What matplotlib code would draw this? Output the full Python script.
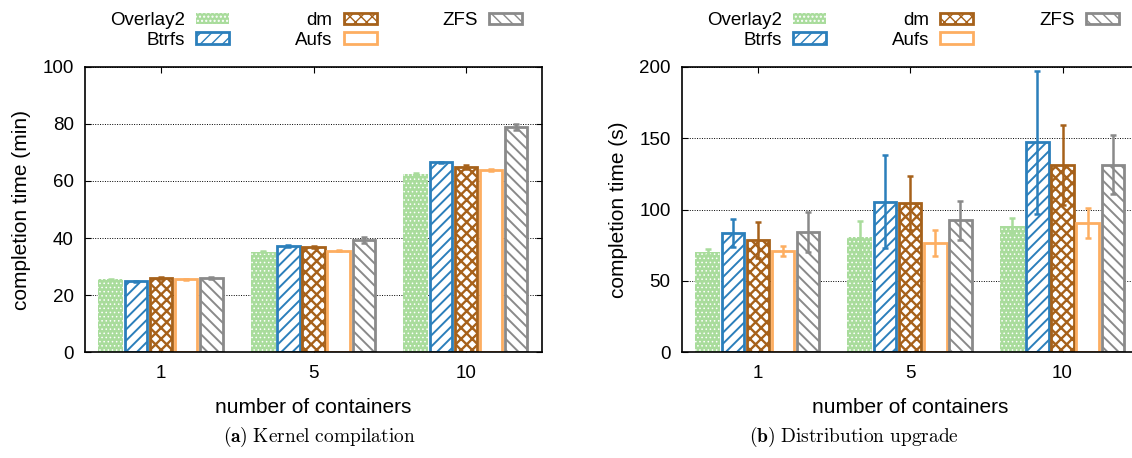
import numpy as np
import matplotlib
matplotlib.use('Agg')
import matplotlib.pyplot as plt

# Data
containers = ['1', '5', '10']
drivers = ['Overlay2', 'Btrfs', 'dm', 'Aufs', 'ZFS']

kernel_mean = {
    'Overlay2': [25.5, 35.2, 62.4],
    'Btrfs':    [24.8, 37.2, 66.5],
    'dm':       [26.0, 36.8, 64.9],
    'Aufs':     [25.6, 35.6, 63.8],
    'ZFS':      [26.1, 39.4, 78.8],
}
kernel_err = {
    'Overlay2': [0.2, 0.2, 0.3],
    'Btrfs':    [0.2, 0.3, 0.3],
    'dm':       [0.3, 0.4, 0.6],
    'Aufs':     [0.2, 0.2, 0.4],
    'ZFS':      [0.3, 1.0, 1.0],
}
upgrade_mean = {
    'Overlay2': [70.0, 80.7, 88.6],
    'Btrfs':    [83.5, 105.6, 147.0],
    'dm':       [78.4, 104.4, 131.0],
    'Aufs':     [70.9, 76.3, 90.5],
    'ZFS':      [84.4, 92.3, 131.4],
}
upgrade_err = {
    'Overlay2': [2.0, 11.0, 5.4],
    'Btrfs':    [10.0, 32.5, 50.0],
    'dm':       [12.5, 19.0, 28.0],
    'Aufs':     [3.7, 9.0, 10.5],
    'ZFS':      [14.0, 13.5, 20.5],
}

# Styles
colors = {
    'Overlay2': '#a9dc9c',
    'Btrfs': '#2b7fbb',
    'dm': '#a6611a',
    'Aufs': '#fdae61',
    'ZFS': '#8a8a8a',
}
hatches = {'Overlay2': '....', 'Btrfs': '///', 'dm': 'xxx', 'Aufs': None, 'ZFS': '\\\\\\'}
hatch_lw = {'Overlay2': 0.6, 'Btrfs': 1.4, 'dm': 1.7, 'Aufs': 1.4, 'ZFS': 1.4}

plt.rcParams['font.family'] = ['Liberation Sans', 'DejaVu Sans']
plt.rcParams['mathtext.fontset'] = 'cm'
FS = 13.5      # ticks and legend
LFS = 15       # axis labels
EDGE_LW = 2.0  # bar outline, points

W, H = 1132, 458
fig = plt.figure(figsize=(W / 100, H / 100), dpi=100)


def px_axes(left, top, right, bottom):
    return fig.add_axes([left / W, 1 - bottom / H, (right - left) / W, (bottom - top) / H])


def draw_panel(ax, means, errs, ymax, ystep, ylabel):
    x = np.arange(len(containers))
    bw = 0.165
    # outlines sit inside each bar's slot (gnuplot style), so shrink by one line width
    ax_w_px = ax.get_position().width * W
    inset = EDGE_LW * 100 / 72 / (ax_w_px / 3.0)
    handles = []
    for i, d in enumerate(drivers):
        pos = x + (i - 2) * bw
        c = colors[d]
        with plt.rc_context({'hatch.linewidth': hatch_lw[d]}):
            if d == 'Overlay2':
                h = ax.bar(pos, means[d], bw, facecolor=c, edgecolor='white', linewidth=0,
                           hatch=hatches[d], label=d, zorder=2)
            else:
                h = ax.bar(pos, means[d], bw - inset, facecolor='white', edgecolor=c,
                           linewidth=EDGE_LW, hatch=hatches[d], label=d, zorder=2)
        handles.append(h)
        ax.errorbar(pos, means[d], yerr=errs[d], fmt='none', ecolor=c,
                    elinewidth=1.8, capsize=2.4, capthick=1.8, zorder=3)
    ax.set_xlim(-0.5, 2.5)
    ax.set_ylim(0, ymax)
    ax.set_yticks(np.arange(0, ymax + 1, ystep))
    ax.set_xticks(x)
    ax.set_xticklabels(containers)
    ax.tick_params(direction='in', top=True, right=True, labelsize=FS, pad=8,
                   length=4, width=0.8)
    ax.tick_params(axis='x', pad=9)
    ax.yaxis.grid(True, linestyle=(0, (1, 1.5)), color='black', linewidth=0.7)
    ax.set_axisbelow(True)
    for s in ax.spines.values():
        s.set_linewidth(1.2)
    ax.set_xlabel('number of containers', fontsize=LFS, labelpad=12)
    ax.set_ylabel(ylabel, fontsize=LFS, labelpad=8)
    ax.legend(handles=handles, loc='upper left', bbox_to_anchor=(0.055, 1.19), ncol=3,
              markerfirst=False, frameon=False, fontsize=FS, borderpad=0,
              borderaxespad=0, handlelength=1.76, handleheight=0.55,
              handletextpad=0.6, columnspacing=3.5, labelspacing=0.12)


ax1 = px_axes(85, 66.7, 542, 352.3)
draw_panel(ax1, kernel_mean, kernel_err, 100, 20, 'completion time (min)')

ax2 = px_axes(681.7, 66.7, 1138.7, 352.3)
draw_panel(ax2, upgrade_mean, upgrade_err, 200, 50, 'completion time (s)')

fig.text(319 / W, 1 - 437 / H, r'$\mathbf{(a)}$ $\mathrm{Kernel\ compilation}$',
         ha='center', va='center', fontsize=14)
fig.text(854 / W, 1 - 437 / H, r'$\mathbf{(b)}$ $\mathrm{Distribution\ upgrade}$',
         ha='center', va='center', fontsize=14)

fig.savefig('out.png', dpi=100)
